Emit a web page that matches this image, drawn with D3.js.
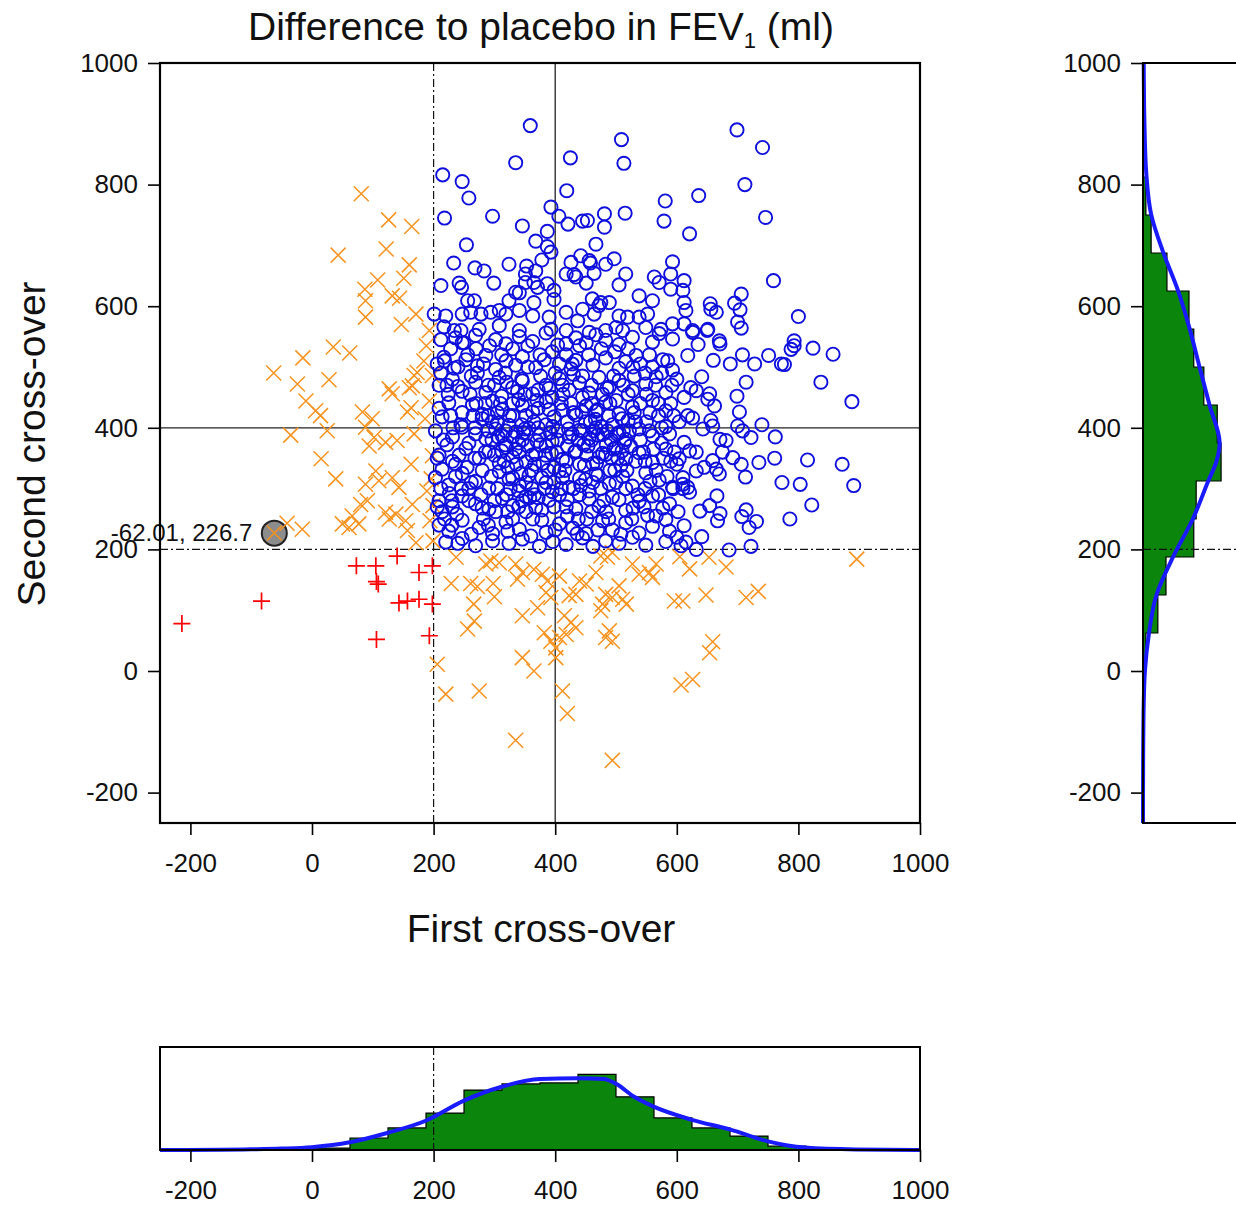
<!DOCTYPE html>
<html>
<head>
<meta charset="utf-8">
<script src="https://cdn.jsdelivr.net/npm/d3@7"></script>
<style>
body { margin: 0; background: #fff; }
text { font-family: "Liberation Sans", Arial, sans-serif; }
</style>
</head>
<body>
<div id="chart"></div>
<script>
// tick labels
var xTicks = [-200, 0, 200, 400, 600, 800, 1000];
var yTicks = [-200, 0, 200, 400, 600, 800, 1000];

// histogram counts, bins of 62.5 starting at -250
var binStart = -250, binWidth = 62.5;
var firstCounts  = [0, 0, 0, 0, 4, 25, 46, 77, 125, 138, 140, 158, 111, 67, 46, 29, 8, 0, 0, 0];
var secondCounts = [0, 0, 0, 0, 6, 31, 48, 106, 111, 163, 155, 127, 106, 96, 50, 17, 6, 0, 0, 0];

// density curves (same units as counts)
var firstDensAt  = [-250, -150, -100, -50, 0, 62, 125, 187, 250, 312, 375, 437, 480, 499, 530, 561, 625, 687, 750, 810, 895, 1000];
var firstDens    = [0, 0.5, 1.5, 3, 6, 16, 36, 61, 103, 132, 148, 150, 148, 139, 111, 91, 63, 43, 18, 5, 1, 0];
var secondDensAt = [-250, -150, -55, 0, 62, 125, 188, 250, 312, 344, 375, 437, 500, 564, 626, 689, 751, 817, 900, 1000];
var secondDens   = [0, 0.3, 1.5, 4, 12.5, 28, 63, 104, 136, 153, 160, 139, 118, 97, 73, 42, 17, 7, 3, 1.5];

// highlighted point
var marked = [-62.01, 226.7];

// both cross-overs below 200
var bothBelow = [[-214,78],[-83,115],[73,173],[105,173],[106,147],[109,143],[106,52],[140,189],
  [143,112],[157,115],[176,118],[176,162],[198,173],[198,110],[193,58]];

// one cross-over below 200
var oneBelow = [[81,785],[126,742],[164,731],[43,684],[122,694],[160,668],[108,643],[151,646],[87,628],
  [88,609],[132,617],[144,613],[88,582],[147,570],[171,587],
  [-63,490],[-15,515],[35,533],[62,523],[-24,472],[28,479],[-10,444],[6,428],[14,420],[25,395],[-35,388],
  [15,349],[39,316],[83,426],[99,415],[88,401],[102,384],[94,370],[127,464],[132,456],[157,426],[121,376],
  [140,379],[168,486],[160,466],[163,433],[168,390],[163,340],[165,274],[105,329],[110,313],[88,307],[80,274],
  [91,280],[132,318],[143,302],[138,258],[154,247],[66,255],[77,242],[50,242],[61,236],[-41,243],[-16,233],
  [121,261],[127,250],[157,231],[171,211],[-62,227],
  [165,469],[173,491],[193,560],[188,535],[184,510],[198,486],[193,444],[186,415],[198,354],[196,316],
  [189,296],[199,272],[194,247],[199,214],
  [237,187],[229,144],[261,144],[272,139],[266,110],[298,144],[300,122],[286,176],[294,181],[308,178],
  [335,176],[346,162],[338,151],[365,167],[379,159],[387,148],[385,129],[393,121],[346,91],[371,104],
  [267,82],[256,69],[382,63],[393,49],[401,38],[401,22],[346,22],[365,0],[206,11],[220,-38],[275,-33],
  [412,-33],[420,-70],[335,-114],[494,-147],[407,156],[423,124],[415,91],[426,80],[434,71],[407,55],
  [418,60],[440,148],[451,143],[434,126],[467,162],[483,126],[478,110],[475,99],[494,121],[483,55],
  [494,49],[489,66],[475,189],[486,187],[494,195],[527,176],[538,159],[555,162],[560,154],[566,176],
  [505,140],[511,118],[517,110],[596,115],
  [605,188],[621,168],[653,187],[681,171],[896,184],[648,125],[714,121],[734,131],[610,115],[659,48],
  [654,30],[626,-14],[607,-23]];

// both cross-overs at or above 200
var bothAbove = [[359,897],[335,836],[425,844],[509,874],[513,835],[215,816],[247,805],[258,778],[419,790],
  [581,773],[579,740],[218,745],[297,748],[346,732],[393,763],[406,748],[421,735],[445,740],[453,741],
  [481,752],[481,730],[515,753],[254,701],[368,707],[387,723],[387,698],[393,689],[467,702],[233,671],
  [268,663],[283,658],[324,669],[353,666],[368,658],[378,676],[426,672],[442,683],[456,675],[458,671],
  [497,678],[418,653],[431,652],[464,654],[483,669],[516,653],[563,648],[571,639],[593,673],[590,653],
  [590,628],[212,634],[242,638],[246,631],[299,638],[335,623],[351,653],[351,639],[365,639],[371,631],
  [387,637],[398,626],[398,611],[434,648],[451,638],[505,635],[256,609],[267,609],[324,609],[341,622],
  [365,606],[461,612],[475,606],[489,606],[538,617],[560,609],[201,587],[220,584],[217,566],[247,587],
  [261,590],[278,587],[294,590],[308,593],[319,587],[341,593],[363,584],[390,582],[418,590],[445,595],
  [464,587],[472,601],[505,584],[519,582],[538,582],[552,587],[234,560],[245,560],[275,562],[308,568],
  [341,560],[393,562],[418,560],[437,576],[456,557],[483,560],[500,565],[511,560],[549,565],[574,562],
  [593,571],
  [699,890],[741,861],[712,800],[636,782],[746,746],[621,719],[759,642],[612,642],[610,626],[612,606],
  [615,593],[706,620],[695,605],[704,594],[655,604],[656,595],[665,590],[800,583],[700,574],[706,564],
  [651,562],[626,560],[612,571],[670,543],[793,543],
  [626,557],[650,560],[635,537],[671,538],[618,519],[660,511],[688,505],[708,520],[728,505],[751,519],
  [772,505],[777,504],[788,529],[793,535],[824,531],[857,521],[837,475],[888,443],[641,484],[623,466],
  [632,461],[654,456],[651,447],[662,436],[714,475],[699,452],[703,426],[626,416],[656,412],[643,398],
  [659,403],[700,403],[740,405],[708,395],[722,384],[762,385],[612,376],[621,362],[632,360],[671,381],
  [681,379],[675,360],[692,351],[706,340],[659,346],[665,332],[670,324],[604,349],[632,329],[645,335],
  [735,343],[761,350],[815,347],[872,340],[713,319],[773,310],[803,307],[891,305],[610,318],[610,307],
  [618,302],[621,294],[666,288],[654,272],[638,263],[671,259],[667,247],[707,254],[714,265],[731,246],
  [719,236],[786,250],[822,273],[612,239],[641,221],[615,212],[632,200],[686,199],[722,205],[607,206],
  [236,548],[247,540],[269,552],[302,545],[319,538],[341,550],[363,542],[385,556],[404,536],[434,548],
  [451,540],[467,553],[483,544],[505,537],[527,549],[560,541],[571,555],[593,546],
  [206,505],[217,516],[234,498],[253,512],[272,502],[286,519],[302,496],[319,510],[335,503],[346,517],
  [368,499],[382,512],[407,505],[418,520],[426,497],[434,511],[462,503],[483,515],[505,498],[516,509],
  [533,519],[560,500],[577,512],[593,495],
  [209,470],[231,480],[247,460],[269,475],[286,458],[308,483],[330,466],[346,477],[363,456],[385,470],
  [407,481],[423,462],[440,474],[456,457],[472,483],[489,467],[505,478],[527,461],[549,472],[566,484],[582,458],
  [209,432],[225,441],[247,425],[264,438],[280,422],[297,444],[313,430],[330,420],[346,437],[363,426],
  [385,443],[412,429],[434,421],[451,436],[467,427],[483,442],[505,423],[527,434],[560,445],[582,428],
  [203,395],[231,385],[247,401],[269,390],[286,382],[302,398],[313,387],[324,404],[335,393],[346,380],
  [357,399],[374,388],[396,402],[423,385],[440,396],[456,383],[467,400],[478,389],[494,405],[505,392],
  [516,381],[538,398],[560,387],[582,402],
  [209,355],[231,345],[253,366],[275,350],[291,361],[308,342],[319,368],[330,352],[341,360],[352,344],
  [368,357],[385,370],[412,348],[434,362],[462,341],[483,356],[500,367],[516,349],[538,359],[560,343],[582,365],
  [203,318],[225,306],[247,325],[269,312],[291,301],[308,328],[324,316],[341,305],[357,322],[385,310],
  [407,329],[423,302],[440,317],[467,324],[489,308],[511,320],[527,304],[549,326],[571,314],[593,302],
  [209,280],[231,270],[247,288],[269,275],[291,266],[313,284],[330,272],[352,287],[368,269],[390,281],
  [407,290],[434,267],[456,283],[472,271],[494,286],[516,264],[538,279],[560,288],[577,268],
  [209,240],[225,230],[247,248],[275,236],[297,226],[319,245],[341,233],[363,250],[385,228],[407,242],
  [429,235],[451,226],[478,247],[494,232],[516,244],[538,227],[560,238],[582,249],
  [220,212],[247,218],[269,206],[297,214],[324,210],[346,217],[374,205],[396,213],[418,208],[445,219],
  [462,205],[483,214],[505,210],[527,220],[549,207],[582,213],
  [280,415],[296,410],[318,395],[340,375],[355,370],[372,400],[395,378],[402,360],[418,345],[428,390],
  [447,372],[458,410],[472,352],[492,380],[510,362],[522,395],[470,388],[440,340],[361,330],[300,355],
  [322,335],[378,318],[456,296],[498,330],[532,345],[550,410],[268,400],[305,425],[352,420],[413,455],
  [485,465],[445,450],[390,465],[320,475],[260,455],[530,485],[545,360],[575,375],[595,420],[600,340],[610,300],
  [318,372],[330,385],[336,340],[348,392],[362,355],[370,378],[380,342],[392,392],[330,318],[312,362],
  [296,380],[352,310],[340,296],[366,290],[384,355],[398,335],[420,370],[412,318],[445,395],[452,355],
  [460,380],[468,342],[476,402],[484,372],[492,350],[502,390],[508,338],[514,376],[520,412],[488,420],
  [466,414],[444,426],[426,440],[398,418],[372,432],[340,446],[312,452],[290,470],[272,490],[256,520],
  [240,468],[224,455],[214,418],[222,372],[214,332],[236,320],[226,292],[238,258],[214,262],[258,300],
  [280,330],[268,350],[258,375],[290,395],[305,300],[290,240],[330,250],[352,262],[378,248],[398,270],
  [420,282],[438,250],[460,262],[484,262],[505,282],[528,268],[552,256],[570,290],[588,275],[548,300],
  [566,330],[590,345],[575,400],[556,425],[540,440],[592,470],[575,490],[555,520],[540,505],[520,530],
  [498,525],[476,530],[455,520],[440,535],[418,538],[395,525],[375,520],[355,535],[330,530],[312,520],
  [292,535],[270,530],[250,540],[228,530],[212,545],[345,480],[372,462],[400,490],[430,488],[460,470],
  [520,455],[500,445],[420,410],[405,395],[385,405],[365,410],[345,405],[325,420],[305,408],[285,440],
  [265,420],[245,405],[430,300],[450,315],[475,300],[500,310],[395,295],[362,300],[320,290],
  [232,400],[242,355],[255,335],[262,310],[278,290],[285,360],[295,320],[306,385],[316,345],[326,300],
  [335,365],[344,325],[350,398],[358,285],[366,340],[375,372],[382,300],[388,330],[394,358],[404,380],
  [410,300],[416,330],[422,398],[432,360],[438,380],[442,305],[448,338],[454,370],[463,395],[470,322],
  [478,358],[486,395],[490,330],[496,365],[503,350],[512,395],[518,330],[524,370],[532,410],[540,380],
  [548,345],[555,395],[562,365],[570,420],[578,350],[588,390],[596,360],[604,410],[612,450],[618,420],
  [240,500],[262,485],[282,505],[300,470],[318,490],[338,460],[355,500],[376,485],[395,450],[412,470],
  [428,505],[445,485],[460,440],[478,455],[496,485],[512,470],[528,500],[548,490],[565,470],[585,510],
  [600,480],[222,470],[212,490],[218,510],[228,420],[216,380],[206,350],[212,300],[206,270],[218,250],
  [230,240],[240,210],[262,225],[282,250],[302,262],[322,230],[340,270],[360,222],[378,265],[400,232],
  [420,255],[436,226],[452,250],[470,232],[488,250],[508,225],[526,250],[546,270],[566,255],[588,230],
  [602,262],[600,220],[594,300],[584,320],[556,312],[536,290],[516,300],[480,280],[462,310],[440,290],
  [418,270],[398,310],[372,285],[346,280],[322,262],[300,280],[280,268],[258,280],[246,300],[236,340],
  [230,280],[270,440],[290,420],[310,440],[330,440],[350,455],[370,445],[390,430],[410,440],[430,425],
  [450,410],[470,430],[490,440],[510,415],[530,425],[550,455],[570,440],[590,440]];

var width = 1236, height = 1205;
var plotLeft = 160, plotRight = 920, plotTop = 63, plotBottom = 823;
var histTop = 1047, histBottom = 1150;
var sideLeft = 1143, sideRight = 1246;

var svg = d3.select('#chart')
    .append('svg')
    .attr('width', width)
    .attr('height', height)
    .style('background', '#fff');

var xScale = d3.scaleLinear().domain([-250, 1000]).range([plotLeft, plotRight]);
var yScale = d3.scaleLinear().domain([-250, 1000]).range([plotBottom, plotTop]);
var countY = d3.scaleLinear().domain([0, 215]).range([histBottom, histTop]);
var countX = d3.scaleLinear().domain([0, 215]).range([sideLeft, sideRight]);

var dashDot = '8,3,2,3';
var plainNum = function(d) { return String(d); };

function styleAxis(g) {
    g.select('.domain').remove();
    g.selectAll('.tick line').attr('stroke', '#000').attr('stroke-width', 1.6);
    g.selectAll('.tick text')
        .attr('fill', '#111')
        .style('font-family', '"Liberation Sans", Arial, sans-serif')
        .style('font-size', '26px');
}

// title
var title = svg.append('text')
    .attr('x', 541)
    .attr('y', 40)
    .attr('text-anchor', 'middle')
    .style('font-size', '39px')
    .attr('fill', '#111');
title.append('tspan').text('Difference to placebo in FEV');
title.append('tspan').attr('dy', 8).style('font-size', '22px').text('1');
title.append('tspan').attr('dy', -8).text(' (ml)');

// axis labels
svg.append('text')
    .attr('x', 541).attr('y', 942)
    .attr('text-anchor', 'middle')
    .style('font-size', '39px').attr('fill', '#111')
    .text('First cross-over');

svg.append('text')
    .attr('transform', 'translate(45,444) rotate(-90)')
    .attr('text-anchor', 'middle')
    .style('font-size', '39px').attr('fill', '#111')
    .text('Second cross-over');

// main axes
svg.append('g')
    .attr('transform', 'translate(0,' + plotBottom + ')')
    .call(d3.axisBottom(xScale).tickValues(xTicks).tickFormat(plainNum).tickSize(12).tickPadding(19))
    .call(styleAxis);

svg.append('g')
    .attr('transform', 'translate(' + plotLeft + ',0)')
    .call(d3.axisLeft(yScale).tickValues(yTicks).tickFormat(plainNum).tickSize(12).tickPadding(10))
    .call(styleAxis);

// reference lines
var main = svg.append('g');
main.append('line')
    .attr('x1', xScale(400)).attr('x2', xScale(400))
    .attr('y1', plotTop).attr('y2', plotBottom)
    .attr('stroke', '#222').attr('stroke-width', 1.3);
main.append('line')
    .attr('x1', plotLeft).attr('x2', plotRight)
    .attr('y1', yScale(400)).attr('y2', yScale(400))
    .attr('stroke', '#222').attr('stroke-width', 1.3);
main.append('line')
    .attr('x1', xScale(200)).attr('x2', xScale(200))
    .attr('y1', plotTop).attr('y2', plotBottom)
    .attr('stroke', '#111').attr('stroke-width', 1.2).attr('stroke-dasharray', dashDot);
main.append('line')
    .attr('x1', plotLeft).attr('x2', plotRight)
    .attr('y1', yScale(200)).attr('y2', yScale(200))
    .attr('stroke', '#111').attr('stroke-width', 1.2).attr('stroke-dasharray', dashDot);

// highlighted point marker
main.append('circle')
    .attr('cx', xScale(marked[0]))
    .attr('cy', yScale(marked[1]))
    .attr('r', 12.5)
    .attr('fill', '#8c8c8c')
    .attr('stroke', '#222')
    .attr('stroke-width', 2);

main.append('text')
    .attr('x', xScale(marked[0]) - 22)
    .attr('y', yScale(marked[1]) + 8)
    .attr('text-anchor', 'end')
    .style('font-size', '24px')
    .attr('fill', '#111')
    .text(marked[0] + ', ' + marked[1]);

// orange crosses
main.selectAll('path.xmark')
    .data(oneBelow)
    .enter()
    .append('path')
    .attr('class', 'xmark')
    .attr('transform', function(d) { return 'translate(' + xScale(d[0]) + ',' + yScale(d[1]) + ')'; })
    .attr('d', 'M-7.5,-7.5L7.5,7.5M-7.5,7.5L7.5,-7.5')
    .attr('stroke', '#f7931e')
    .attr('stroke-width', 1.5)
    .attr('fill', 'none');

// red pluses
main.selectAll('path.pmark')
    .data(bothBelow)
    .enter()
    .append('path')
    .attr('class', 'pmark')
    .attr('transform', function(d) { return 'translate(' + xScale(d[0]) + ',' + yScale(d[1]) + ')'; })
    .attr('d', 'M-8.5,0L8.5,0M0,-8.5L0,8.5')
    .attr('stroke', '#f00')
    .attr('stroke-width', 1.7)
    .attr('fill', 'none');

// blue circles
main.selectAll('circle.omark')
    .data(bothAbove)
    .enter()
    .append('circle')
    .attr('class', 'omark')
    .attr('cx', function(d) { return xScale(d[0]); })
    .attr('cy', function(d) { return yScale(d[1]); })
    .attr('r', 6.6)
    .attr('fill', 'none')
    .attr('stroke', '#1010dd')
    .attr('stroke-width', 1.9);

// main frame
svg.append('rect')
    .attr('x', plotLeft).attr('y', plotTop)
    .attr('width', plotRight - plotLeft).attr('height', plotBottom - plotTop)
    .attr('fill', 'none').attr('stroke', '#000').attr('stroke-width', 2.2);

// histogram helpers
function stepData(counts) {
    var pts = [];
    counts.forEach(function(c, i) {
        var a = binStart + i * binWidth;
        pts.push([a, c], [a + binWidth, c]);
    });
    return pts;
}
function zip(a, b) {
    return a.map(function(v, i) { return [v, b[i]]; });
}

// bottom histogram (first cross-over)
var bottomG = svg.append('g');
bottomG.append('path')
    .datum(stepData(firstCounts))
    .attr('d', d3.area()
        .x(function(d) { return xScale(d[0]); })
        .y0(countY(0))
        .y1(function(d) { return countY(d[1]); }))
    .attr('fill', '#0b850b')
    .attr('stroke', '#000')
    .attr('stroke-width', 1.2);

bottomG.append('line')
    .attr('x1', xScale(200)).attr('x2', xScale(200))
    .attr('y1', histTop).attr('y2', histBottom)
    .attr('stroke', '#111').attr('stroke-width', 1.2).attr('stroke-dasharray', dashDot);

bottomG.append('path')
    .datum(zip(firstDensAt, firstDens))
    .attr('d', d3.line()
        .curve(d3.curveMonotoneX)
        .x(function(d) { return xScale(d[0]); })
        .y(function(d) { return countY(d[1]); }))
    .attr('fill', 'none')
    .attr('stroke', '#1a1aff')
    .attr('stroke-width', 4);

bottomG.append('rect')
    .attr('x', plotLeft).attr('y', histTop)
    .attr('width', plotRight - plotLeft).attr('height', histBottom - histTop)
    .attr('fill', 'none').attr('stroke', '#000').attr('stroke-width', 2);

svg.append('g')
    .attr('transform', 'translate(0,' + histBottom + ')')
    .call(d3.axisBottom(xScale).tickValues(xTicks).tickFormat(plainNum).tickSize(12).tickPadding(19))
    .call(styleAxis);

// side histogram (second cross-over)
var sideG = svg.append('g');
sideG.append('path')
    .datum(stepData(secondCounts))
    .attr('d', d3.area()
        .y(function(d) { return yScale(d[0]); })
        .x0(countX(0))
        .x1(function(d) { return countX(d[1]); }))
    .attr('fill', '#0b850b')
    .attr('stroke', '#000')
    .attr('stroke-width', 1.2);

sideG.append('line')
    .attr('x1', sideLeft).attr('x2', sideRight)
    .attr('y1', yScale(200)).attr('y2', yScale(200))
    .attr('stroke', '#111').attr('stroke-width', 1.2).attr('stroke-dasharray', dashDot);

sideG.append('path')
    .datum(zip(secondDensAt, secondDens))
    .attr('d', d3.line()
        .curve(d3.curveMonotoneY)
        .y(function(d) { return yScale(d[0]); })
        .x(function(d) { return countX(d[1]); }))
    .attr('fill', 'none')
    .attr('stroke', '#1a1aff')
    .attr('stroke-width', 4);

sideG.append('rect')
    .attr('x', sideLeft).attr('y', plotTop)
    .attr('width', sideRight - sideLeft).attr('height', plotBottom - plotTop)
    .attr('fill', 'none').attr('stroke', '#000').attr('stroke-width', 2);

svg.append('g')
    .attr('transform', 'translate(' + sideLeft + ',0)')
    .call(d3.axisLeft(yScale).tickValues(yTicks).tickFormat(plainNum).tickSize(12).tickPadding(10))
    .call(styleAxis);
</script>
</body>
</html>
